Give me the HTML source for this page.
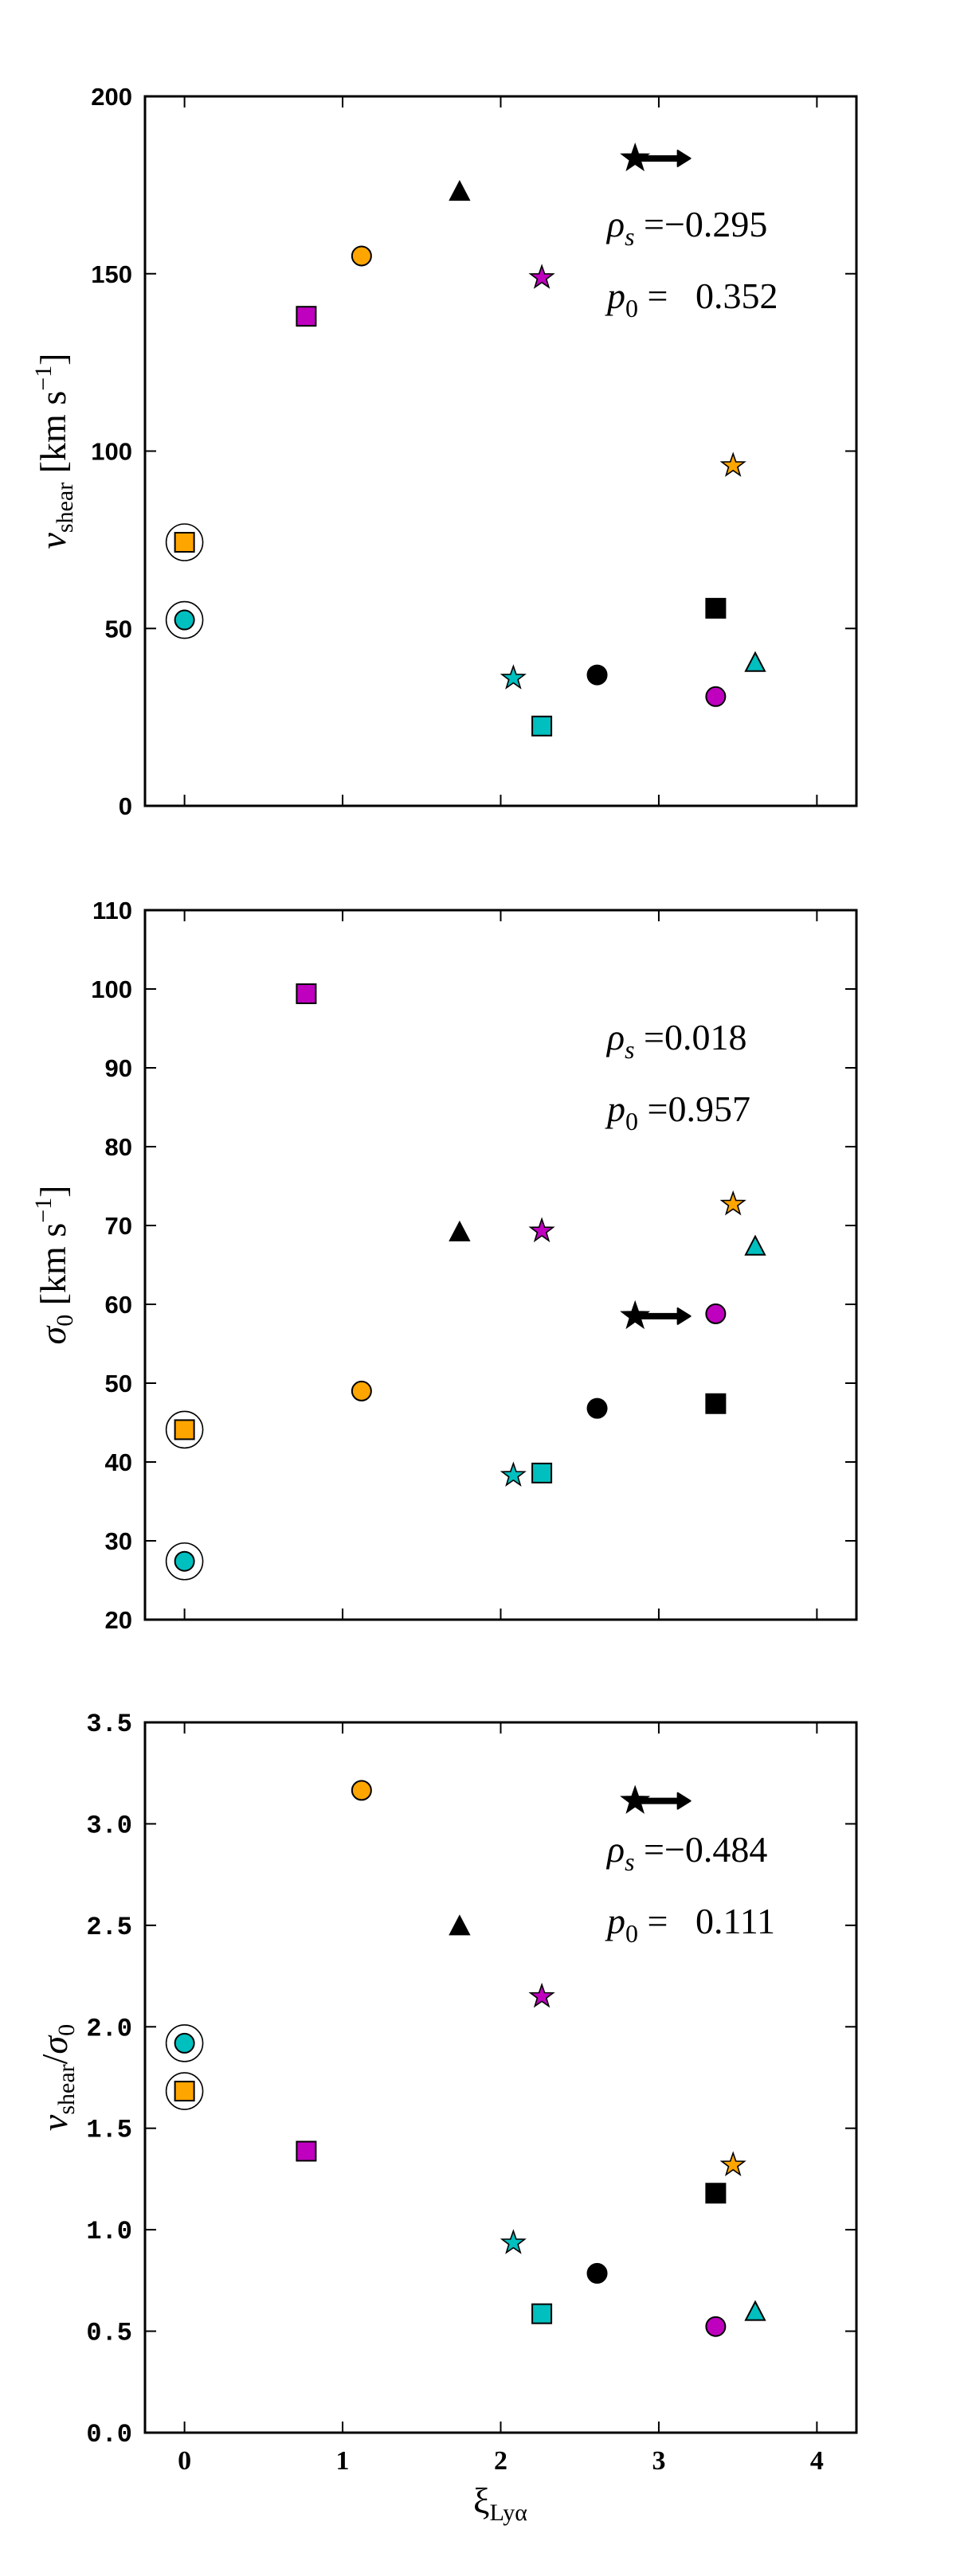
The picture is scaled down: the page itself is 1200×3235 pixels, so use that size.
<!DOCTYPE html>
<html><head><meta charset="utf-8"><style>
html,body{margin:0;padding:0;background:#fff;}
svg{display:block;}
</style></head><body>
<svg id="fig" width="1200" height="3235" viewBox="0 0 1200 3235" xmlns="http://www.w3.org/2000/svg"></svg>
<script>
const objNames = ["cyan-circle-ring","orange-square-ring","magenta-square","orange-circle","black-triangle","cyan-star","magenta-star","cyan-square","black-circle","black-star","black-square","magenta-circle","orange-star","cyan-triangle"];
const objShapes = ["circle","square","square","circle","triangle","star","star","square","circle","bigstar","square","circle","star","triangle"];
const objColors = ["#00bfbf","#ffa500","#bf00bf","#ffa500","#000","#00bfbf","#bf00bf","#00bfbf","#000","#000","#000","#bf00bf","#ffa500","#00bfbf"];
const objRinged = [true,true,false,false,false,false,false,false,false,false,false,false,false,false];
const xiValues = [0,0,0.77,1.12,1.74,2.08,2.26,2.26,2.61,2.85,3.36,3.36,3.47,3.61];
const arrowTo = 3.2;
const vshearValues = [52.4,74.3,138,155,172.8,36,148.9,22.5,36.9,182.5,55.7,30.8,95.9,40];
const sigmaValues = [27.4,44.1,99.4,49.0,69.0,38.3,69.3,38.6,46.8,58.5,47.4,58.8,72.7,67.2];
const ratioValues = [1.919,1.683,1.387,3.165,2.49,0.935,2.149,0.586,0.785,3.113,1.18,0.523,1.319,0.59];
const xTicks = [0,1,2,3,4];
const vshearTicks = [0,50,100,150,200];
const sigmaTicks = [20,30,40,50,60,70,80,90,100,110];
const ratioTickLabels = ["0.0","0.5","1.0","1.5","2.0","2.5","3.0","3.5"];
const ratioTicks = [0,0.5,1,1.5,2,2.5,3,3.5];
const statsRho = ["\u22120.295","0.018","\u22120.484"];
const statsP = ["   0.352","0.957","   0.111"];

const NS="http://www.w3.org/2000/svg";
const svg=document.getElementById('fig');
function mk(tag,attrs,parent){const e=document.createElementNS(NS,tag);for(const k in attrs)e.setAttribute(k,attrs[k]);(parent||svg).appendChild(e);return e;}

const X0=182,X1=1075,XMIN=-0.25,XMAX=4.25;
function xs(v){return X0+(v-XMIN)/(XMAX-XMIN)*(X1-X0);}
function starPts(cx,cy,R){let p=[];for(let i=0;i<10;i++){const r=i%2?R*0.4:R;const a=-Math.PI/2+i*Math.PI/5;p.push((cx+r*Math.cos(a)).toFixed(1)+","+(cy+r*Math.sin(a)).toFixed(1));}return p.join(" ");}

function panel(idx,top,bot,ymin,ymax,vals,ticks,tickLabels,tickFont,yLabel,showX,rho,pv,rhoY){
  const g=mk('g',{});
  
  
  const ys=v=>bot-(v-ymin)/(ymax-ymin)*(bot-top);
  xTicks.forEach(t=>{
    const x=xs(t);
    const a=mk('line',{x1:x,x2:x,y1:bot,y2:bot-14,stroke:'#000','stroke-width':2},g);
    
    const b=mk('line',{x1:x,x2:x,y1:top,y2:top+14,stroke:'#000','stroke-width':2},g);
    
    if(showX){const tl=mk('text',{x:x,y:bot+46,'text-anchor':'middle','font-family':'Liberation Serif, serif','font-size':34,'font-weight':'bold'},g);tl.textContent=String(t);
      }
  });
  ticks.forEach((t,i)=>{
    const y=ys(t);
    const a=mk('line',{x1:X0,x2:X0+14,y1:y,y2:y,stroke:'#000','stroke-width':2},g);
    
    const b=mk('line',{x1:X1,x2:X1-14,y1:y,y2:y,stroke:'#000','stroke-width':2},g);
    
    const tl=mk('text',{x:166,y:y+11,'text-anchor':'end','font-family':tickFont,'font-size':idx==2?32:31,'font-weight':'bold'},g);
    tl.textContent=tickLabels[i];
    
  });
  const yl=mk('text',{transform:`translate(${idx==2?84:82},${(top+bot)/2}) rotate(-90)`,'text-anchor':'middle','font-family':'Liberation Serif, serif','font-size':46},g);
  yl.innerHTML=yLabel;
  
  vals.forEach((v,i)=>{
    const cx=xs(xiValues[i]),cy=ys(v);
    const col=objColors[i],sh=objShapes[i];
    let m;
    if(objRinged[i]){const r=mk('circle',{cx:cx,cy:cy,r:23,fill:'none',stroke:'#000','stroke-width':1.6},g);
      }
    if(sh=='circle') m=mk('circle',{cx:cx,cy:cy,r:12,fill:col,stroke:'#000','stroke-width':2},g);
    else if(sh=='square') m=mk('rect',{x:cx-12,y:cy-12,width:24,height:24,fill:col,stroke:'#000','stroke-width':2},g);
    else if(sh=='triangle') m=mk('polygon',{points:`${cx},${cy-14} ${cx+12},${cy+9} ${cx-12},${cy+9}`,fill:col,stroke:'#000','stroke-width':2},g);
    else if(sh=='star') m=mk('polygon',{points:starPts(cx,cy,15),fill:col,stroke:'#000','stroke-width':1.6},g);
    else {
      const ax=xs(arrowTo);
      const l=mk('line',{x1:cx,x2:ax-10,y1:cy,y2:cy,stroke:'#000','stroke-width':8},g);
      
      const h=mk('path',{d:`M${ax},${cy} L${ax-16},${cy-10} L${ax-16},${cy+10} Z`,fill:'#000',stroke:'#000','stroke-width':2,'stroke-linejoin':'round'},g);
      
      m=mk('polygon',{points:starPts(cx,cy,17),fill:'#000',stroke:'#000','stroke-width':2},g);
    }
    
    
  });
  const t1=mk('text',{x:762,y:rhoY,'font-family':'Liberation Serif, serif','font-size':46},g);
  t1.setAttribute('style','white-space:pre');
  t1.innerHTML=`<tspan font-style="italic">ρ</tspan><tspan font-style="italic" font-size="32" dy="11">s</tspan><tspan dy="-11"> =${rho}</tspan>`;
  
  const t2=mk('text',{x:762,y:rhoY+90,'font-family':'Liberation Serif, serif','font-size':46},g);
  t2.setAttribute('style','white-space:pre');
  t2.innerHTML=`<tspan font-style="italic">p</tspan><tspan font-size="32" dy="11">0</tspan><tspan dy="-11"> =${pv}</tspan>`;
  
  const f=mk('rect',{x:X0,y:top,width:X1-X0,height:bot-top,fill:'none',stroke:'#000','stroke-width':3},g);
  
}

panel(0,121,1012,0,200,vshearValues,vshearTicks,vshearTicks.map(String),'Liberation Sans, sans-serif',
  '<tspan font-style="italic">v</tspan><tspan font-size="30" dy="9">shear</tspan><tspan dy="-9"> [km s</tspan><tspan font-size="30" dy="-18">−1</tspan><tspan dy="18">]</tspan>',false,statsRho[0],statsP[0],297);
panel(1,1143,2034,20,110,sigmaValues,sigmaTicks,sigmaTicks.map(String),'Liberation Sans, sans-serif',
  '<tspan font-style="italic">σ</tspan><tspan font-size="30" dy="9">0</tspan><tspan dy="-9">  [km s</tspan><tspan font-size="30" dy="-18">−1</tspan><tspan dy="18">]</tspan>',false,statsRho[1],statsP[1],1318);
panel(2,2163,3055,0,3.5,ratioValues,ratioTicks,ratioTickLabels,'Liberation Mono, monospace',
  '<tspan font-style="italic">v</tspan><tspan font-size="30" dy="9">shear</tspan><tspan dy="-9">/</tspan><tspan font-style="italic">σ</tspan><tspan font-size="30" dy="9">0</tspan>',true,statsRho[2],statsP[2],2338);

const xl=mk('text',{x:628,y:3156,'text-anchor':'middle','font-family':'Liberation Serif, serif','font-size':46});
xl.innerHTML='<tspan>ξ</tspan><tspan font-size="30" dy="9">Lyα</tspan>';


</script>
</body></html>
